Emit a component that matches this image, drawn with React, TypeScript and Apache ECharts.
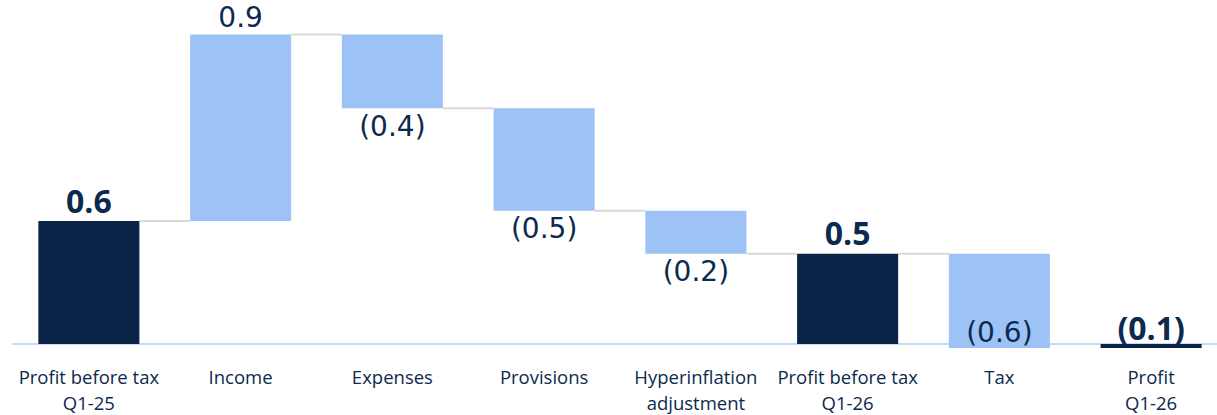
import React, { useEffect, useRef } from "react";
import * as echarts from "echarts";

const categories = [
  "Profit before tax\nQ1-25",
  "Income",
  "Expenses",
  "Provisions",
  "Hyperinflation\nadjustment",
  "Profit before tax\nQ1-26",
  "Tax",
  "Profit\nQ1-26",
];
// signed amounts as drawn; totals are measured from zero
const values = [0.6, 0.91, -0.36, -0.5, -0.21, 0.44, -0.46, -0.02];
const isTotal = [true, false, false, false, false, true, false, true];
const valueLabels = ["0.6", "0.9", "(0.4)", "(0.5)", "(0.2)", "0.5", "(0.6)", "(0.1)"];

const DARK = "#0a2346";
const LIGHT = "#9dc3f6";
const TEXT = "#0c2a4d";

export default function App() {
  const ref = useRef<HTMLDivElement>(null);

  useEffect(() => {
    if (!ref.current) return;
    const chart = echarts.init(ref.current, undefined, { renderer: "svg" });

    // build floating bar ranges from the data
    const bars: number[][] = [];
    const levels: number[] = [];
    let running = 0;
    values.forEach((v, i) => {
      if (isTotal[i]) {
        bars.push([i, 0, v]);
        running = v;
      } else {
        bars.push([i, running, running + v]);
        running = running + v;
      }
      levels.push(running);
    });
    // the last step lies on the axis line, so no connector is drawn for it
    const connectors = levels.slice(0, -2).map((l, i) => [i, l]);

    const BAR_RATIO = 101 / 151.7;

    chart.setOption({
      animation: false,
      grid: {
        left: 13,
        width: 1214,
        top: 16,
        height: 328,
        containLabel: false,
        outerBoundsMode: "none",
      },
      xAxis: {
        type: "category",
        data: categories,
        axisTick: { show: false },
        axisLine: { show: true, onZero: true, lineStyle: { color: "#c6dbf2", width: 2 } },
        axisLabel: {
          interval: 0,
          margin: 19,
          fontSize: 18.5,
          lineHeight: 26,
          fontFamily: "Open Sans",
          color: TEXT,
        },
        splitLine: { show: false },
      },
      yAxis: { type: "value", min: 0, max: 1.6, show: false, splitLine: { show: false } },
      series: [
        {
          type: "custom",
          name: "connectors",
          z: 1,
          clip: false,
          data: connectors,
          encode: { x: 0, y: 1 },
          renderItem: (params: any, api: any) => {
            const i = api.value(0);
            const lv = api.value(1);
            const bw = api.size([1, 0])[0] * BAR_RATIO;
            const a = api.coord([i, lv]);
            const b = api.coord([i + 1, lv]);
            return {
              type: "line",
              shape: { x1: a[0] + bw / 2, y1: a[1], x2: b[0] - bw / 2, y2: b[1] },
              style: { stroke: "#d9d9d9", lineWidth: 2 },
            };
          },
        },
        {
          type: "custom",
          name: "bars",
          z: 2,
          clip: false,
          data: bars,
          encode: { x: 0, y: [1, 2] },
          renderItem: (params: any, api: any) => {
            const i = api.value(0);
            const s = api.value(1);
            const e = api.value(2);
            const p1 = api.coord([i, s]);
            const p2 = api.coord([i, e]);
            const zeroY = api.coord([i, 0])[1];
            const bw = api.size([1, 0])[0] * BAR_RATIO;
            const top = Math.min(p1[1], p2[1]);
            const bottom = Math.max(p1[1], p2[1]);
            const total = isTotal[i];
            const v = values[i];
            let ly: number;
            if (total) {
              ly = top - (v < 0 ? 17 : 21);
            } else if (v >= 0) {
              ly = top - 17;
            } else if (bottom > zeroY - 30) {
              ly = bottom - 16;
            } else {
              ly = bottom + 18;
            }
            return {
              type: "group",
              children: [
                {
                  type: "rect",
                  shape: { x: p1[0] - bw / 2, y: top, width: bw, height: Math.max(bottom - top, 1) },
                  style: { fill: total ? DARK : LIGHT },
                },
                {
                  type: "text",
                  x: p1[0],
                  y: ly,
                  style: {
                    text: valueLabels[i],
                    align: "center",
                    verticalAlign: "middle",
                    fill: TEXT,
                    fontSize: total ? 32 : 28,
                    fontWeight: total ? "bold" : "normal",
                    fontFamily: total ? "Open Sans" : "DejaVu Sans",
                  },
                },
              ],
            };
          },
        },
      ],
    });

    return () => chart.dispose();
  }, []);

  return (
    <div
      ref={ref}
      style={{ position: "fixed", left: 0, top: 0, width: 1217, height: 415, background: "#fff" }}
    />
  );
}
